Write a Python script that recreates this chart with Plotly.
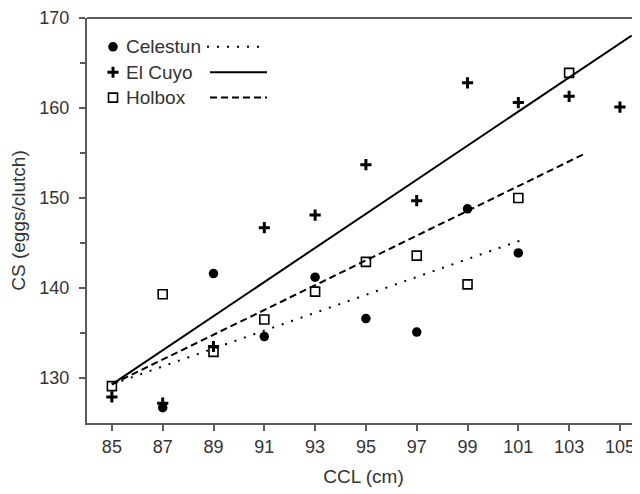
import plotly.graph_objects as go

# ---------------- data ----------------
ccl = [85, 87, 89, 91, 93, 95, 97, 99, 101, 103, 105]

celestun_x = [87, 89, 91, 93, 95, 97, 99, 101]
celestun_y = [126.7, 141.6, 134.6, 141.2, 136.6, 135.1, 148.8, 143.9]

elcuyo_x = [85, 87, 89, 91, 93, 95, 97, 99, 101, 103, 105]
elcuyo_y = [127.9, 127.2, 133.5, 146.7, 148.1, 153.7, 149.7, 162.8, 160.6, 161.3, 160.1]

holbox_x = [85, 87, 89, 91, 93, 95, 97, 99, 101, 103]
holbox_y = [129.1, 139.3, 132.9, 136.5, 139.6, 142.9, 143.6, 140.4, 150.0, 163.9]

# fitted regression lines (end points)
celestun_fit_x = [85, 101.2]
celestun_fit_y = [129.3, 145.4]
elcuyo_fit_x = [85, 105.46]
elcuyo_fit_y = [129.3, 168.05]
holbox_fit_x = [85, 103.6]
holbox_fit_y = [129.3, 154.9]

series_names = ["Celestun", "El Cuyo", "Holbox"]
y_ticks = [130, 140, 150, 160, 170]

# ---------------- styling ----------------
FONT = "Liberation Sans, Arial, sans-serif"
AX = "#5a5a5a"
TXT = "#333333"
OFF = 8  # browser body margin
W, H = 640 - OFF, 494 - OFF
ML, MR, MT, MB = 87 - OFF, 0, 16 - OFF, 71

fig = go.Figure()

# regression lines
fig.add_trace(go.Scatter(x=celestun_fit_x, y=celestun_fit_y, mode="lines",
                         line=dict(color="black", width=2, dash="2px,8px"), showlegend=False))
fig.add_trace(go.Scatter(x=elcuyo_fit_x, y=elcuyo_fit_y, mode="lines",
                         line=dict(color="black", width=2), showlegend=False))
fig.add_trace(go.Scatter(x=holbox_fit_x, y=holbox_fit_y, mode="lines",
                         line=dict(color="black", width=2, dash="7px,4px"), showlegend=False))

# points
mk_circle = dict(symbol="circle", size=9.5, color="black", line=dict(width=0))
mk_plus = dict(symbol="cross-thin", size=8, color="black", line=dict(width=3, color="black"))
mk_square = dict(symbol="square-open", size=9, color="black", line=dict(width=1.6, color="black"))

fig.add_trace(go.Scatter(x=celestun_x, y=celestun_y, mode="markers", marker=mk_circle, showlegend=False))
fig.add_trace(go.Scatter(x=elcuyo_x, y=elcuyo_y, mode="markers", marker=mk_plus, showlegend=False))
fig.add_trace(go.Scatter(x=holbox_x, y=holbox_y, mode="markers", marker=mk_square,
                         showlegend=False))

# ---------------- custom legend on a pixel-coordinate overlay axis ----------------
leg_rows = [45, 70.5, 96]
leg_marker_x = 113
leg_text_x = 124
leg_line = [(207, 267), (210, 267), (210, 267)]
leg_dash = ["2px,8px", "solid", "7px,4px"]
leg_markers = [mk_circle, mk_plus, mk_square]
for name, yy, mk, (x0, x1), dsh in zip(series_names, leg_rows, leg_markers, leg_line, leg_dash):
    fig.add_trace(go.Scatter(x=[leg_marker_x], y=[yy], mode="markers", marker=mk,
                             xaxis="x2", yaxis="y2", showlegend=False, hoverinfo="skip"))
    fig.add_trace(go.Scatter(x=[x0, x1], y=[yy, yy], mode="lines",
                             line=dict(color="black", width=2, dash=dsh),
                             xaxis="x2", yaxis="y2", showlegend=False, hoverinfo="skip"))
    fig.add_annotation(x=leg_text_x, y=yy, xref="x2", yref="y2", text=name, showarrow=False,
                       xanchor="left", yanchor="middle", font=dict(family=FONT, size=19, color=TXT))

fig.update_layout(
    width=W, height=H,
    margin=dict(l=ML, r=MR, t=MT, b=MB, pad=0),
    paper_bgcolor="white", plot_bgcolor="white",
    font=dict(family=FONT, size=18, color=TXT),
    xaxis=dict(
        range=[84.02, 105.79], tickvals=ccl, ticktext=[str(v) for v in ccl],
        showgrid=False, zeroline=False, showline=True, linecolor=AX, linewidth=2,
        ticks="outside", ticklen=6, tickwidth=1.5, tickcolor=AX,
        tickfont=dict(size=18, color=TXT), ticklabeloverflow="allow",
        title=dict(text="CCL (cm)", font=dict(size=19, color=TXT), standoff=14),
        mirror=False,
    ),
    yaxis=dict(
        range=[125, 170], tickvals=y_ticks,
        showgrid=False, zeroline=False, showline=True, linecolor=AX, linewidth=2,
        ticks="outside", ticklen=6, tickwidth=1.5, tickcolor=AX,
        minor=dict(tickvals=[135, 145, 155, 165], ticks="outside", ticklen=5, tickwidth=1.5, tickcolor=AX),
        tickfont=dict(size=18, color=TXT), ticklabeloverflow="allow", ticklabelstandoff=6,
        title=dict(text="CS (eggs/clutch)", font=dict(size=19, color=TXT), standoff=18),
    ),
    xaxis2=dict(range=[87, 640], overlaying="x", visible=False, fixedrange=True),
    yaxis2=dict(range=[423, 16], overlaying="y", visible=False, fixedrange=True),
    shapes=[dict(type="line", xref="paper", yref="paper", x0=0, x1=1, y0=1, y1=1,
                 line=dict(color=AX, width=2))],
)

fig.write_html("out.html")
